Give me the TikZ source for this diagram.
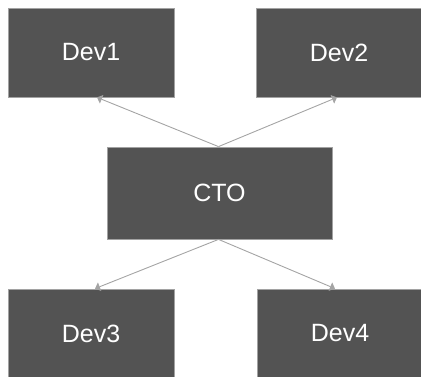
\documentclass[tikz,border=0pt]{standalone}
\usepackage{fontspec}
\setmainfont{Liberation Sans}
\usetikzlibrary{arrows.meta}
\definecolor{boxfill}{HTML}{535353}
\definecolor{boxline}{HTML}{A2A2A2}
\definecolor{arrowcol}{HTML}{A4A4A4}
\begin{document}
\begin{tikzpicture}[x=1pt,y=-1pt,
  devbox/.style={rectangle, fill=boxfill, draw=boxline, line width=0.8pt,
    minimum width=166pt, minimum height=89pt, inner sep=0pt,
    text=white, font=\fontsize{25}{30}\selectfont},
  conn/.style={draw=arrowcol, line width=0.9pt, -{Triangle[length=5pt,width=9pt]}}]
\useasboundingbox (0,0) rectangle (421,377);
\clip (0,0) rectangle (421,377);
\node[devbox] (dev1) at (91,52.5) {Dev1};
\node[devbox] (dev2) at (339,52.5) {Dev2};
\node[devbox, minimum width=225pt, minimum height=92pt] (cto) at (219.5,193) {CTO};
\node[devbox] (dev3) at (91,333.5) {Dev3};
\node[devbox] (dev4) at (340,333.5) {Dev4};
\draw[conn] ([xshift=-1pt]cto.north) -- ([xshift=6pt]dev1.south);
\draw[conn] ([xshift=-1pt]cto.north) -- ([xshift=-2pt]dev2.south);
\draw[conn] ([xshift=-1pt]cto.south) -- ([xshift=4pt]dev3.north);
\draw[conn] ([xshift=-1pt]cto.south) -- ([xshift=-5pt]dev4.north);
\end{tikzpicture}
\end{document}
